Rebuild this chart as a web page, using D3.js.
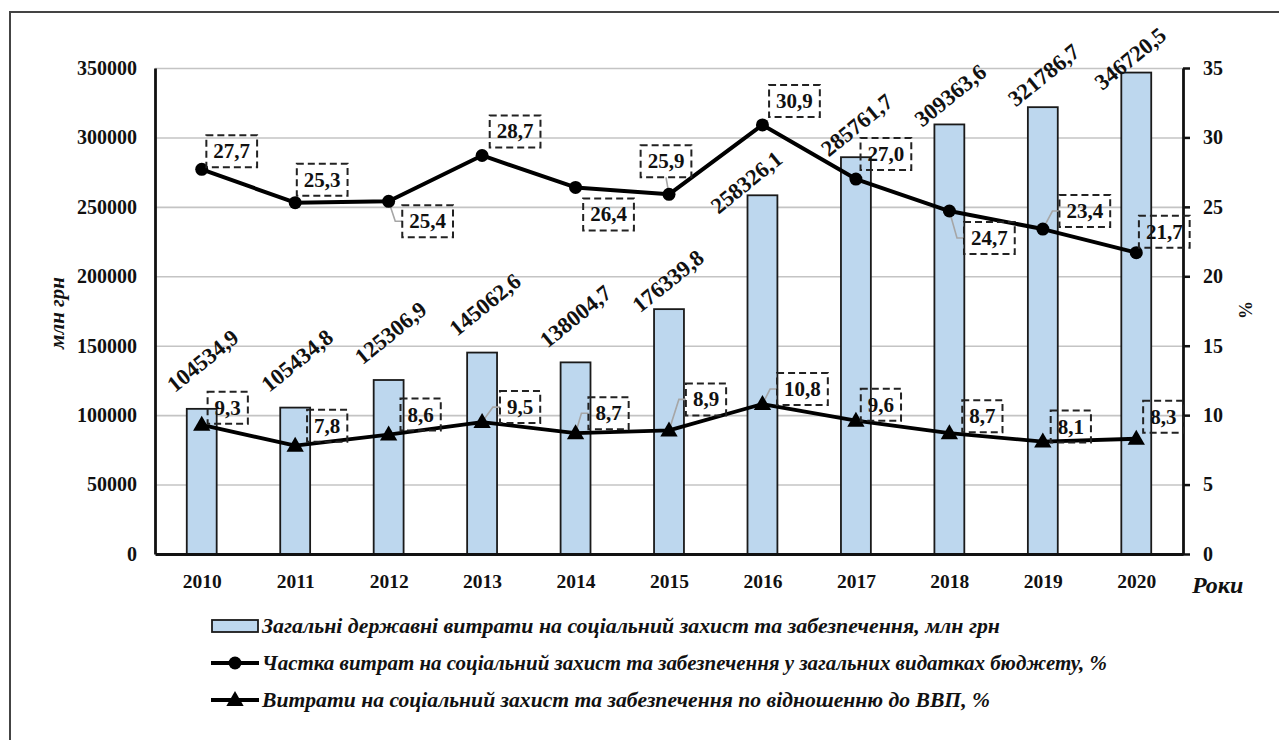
<!DOCTYPE html>
<html>
<head>
<meta charset="utf-8">
<script src="https://cdn.jsdelivr.net/npm/d3@7"></script>
<style>
  html, body { margin: 0; padding: 0; background: #fff; }
  svg { display: block; }
  svg text { font-family: "Liberation Serif", "Times New Roman", serif !important; font-weight: bold; fill: #111; }
</style>
</head>
<body>
<svg id="chart" width="1279" height="740"></svg>
<script>
// ---------- data ----------
const years = ["2010","2011","2012","2013","2014","2015","2016","2017","2018","2019","2020"];
const spending = [104534.9, 105434.8, 125306.9, 145062.6, 138004.7, 176339.8, 258326.1, 285761.7, 309363.6, 321786.7, 346720.5];
const shareOfBudget = [27.7, 25.3, 25.4, 28.7, 26.4, 25.9, 30.9, 27.0, 24.7, 23.4, 21.7];
const shareOfGDP = [9.3, 7.8, 8.6, 9.5, 8.7, 8.9, 10.8, 9.6, 8.7, 8.1, 8.3];
const leftTicks = [0, 50000, 100000, 150000, 200000, 250000, 300000, 350000];
const rightTicks = [0, 5, 10, 15, 20, 25, 30, 35];
const legendLabels = [
  "Загальні державні витрати на соціальний захист та забезпечення, млн грн",
  "Частка витрат на соціальний захист та забезпечення у загальних видатках бюджету, %",
  "Витрати на соціальний захист та забезпечення по відношенню до ВВП, %"
];
const leftTitle = "млн грн";
const rightTitle = "%";
const xTitle = "Роки";

// ---------- layout ----------
const svg = d3.select("#chart").style("font-family", "'Liberation Serif', serif");
const L = 155, R = 1183, T = 68, B = 554;
const fmt = v => String(v).replace(".", ",");
const fmt1 = v => v.toFixed(1).replace(".", ",");

const x = d3.scalePoint().domain(years).range([L, R]).padding(0.5);
const yL = d3.scaleLinear().domain([0, 350000]).range([B, T]);
const yR = d3.scaleLinear().domain([0, 35]).range([B, T]);
const barW = x.step() * 0.32;

// outer frame
svg.append("rect").attr("x", 10).attr("y", 12).attr("width", 1300).attr("height", 760)
  .attr("fill", "none").attr("stroke", "#444").attr("stroke-width", 2);

// gridlines
svg.append("g").attr("transform", `translate(${L},0)`)
  .call(d3.axisRight(yL).tickValues(leftTicks.slice(1)).tickSize(R - L).tickFormat(""))
  .call(g => g.select(".domain").remove())
  .call(g => g.selectAll("line").attr("stroke", "#c4c4c4").attr("stroke-width", 1.6));

// bars
svg.append("g").selectAll("rect").data(spending).join("rect")
  .attr("x", (d, i) => x(years[i]) - barW / 2)
  .attr("y", d => yL(d))
  .attr("width", barW)
  .attr("height", d => B - yL(d))
  .attr("fill", "#bdd7ee").attr("stroke", "#1a1a1a").attr("stroke-width", 1.8);

// bar value labels (rotated), nudges relative to bar top
const barLabelNudge = [[1,-48],[2,-47],[2,-47],[3,-48],[0,-46],[-1,-28],[-16,-13],[1,-32],[1,-29],[1,-32],[-6,-14]];
svg.append("g").selectAll("text").data(spending).join("text")
  .attr("transform", (d, i) => `translate(${x(years[i]) + barLabelNudge[i][0]},${yL(d) + barLabelNudge[i][1]}) rotate(-39)`)
  .attr("text-anchor", "middle").attr("dominant-baseline", "central")
  .attr("font-size", 22.5)
  .text(d => fmt(d));

// axes
svg.append("g").attr("transform", `translate(${L},0)`)
  .call(d3.axisLeft(yL).tickValues(leftTicks).tickSize(0).tickPadding(18).tickFormat(d => d))
  .call(g => g.select(".domain").attr("stroke", "#111").attr("stroke-width", 2.8))
  .call(g => g.selectAll("text").attr("font-size", 20).attr("fill", "#111"));

svg.append("g").attr("transform", `translate(${R},0)`)
  .call(d3.axisRight(yR).tickValues(rightTicks).tickSize(7).tickPadding(13).tickSizeOuter(0).tickFormat(d => d))
  .call(g => g.select(".domain").attr("stroke", "#111").attr("stroke-width", 2.8))
  .call(g => g.selectAll("line").attr("stroke", "#111").attr("stroke-width", 2.5))
  .call(g => g.selectAll("text").attr("font-size", 20).attr("fill", "#111"));

svg.append("g").attr("transform", `translate(0,${B})`)
  .call(d3.axisBottom(x).tickSize(0).tickPadding(20).tickSizeOuter(0))
  .call(g => g.select(".domain").attr("stroke", "#111").attr("stroke-width", 2.8))
  .call(g => g.selectAll("text").attr("font-size", 19.5).attr("fill", "#111"));

// lines
const lineGen = d3.line().x((d, i) => x(years[i])).y(d => yR(d));
svg.append("path").datum(shareOfBudget).attr("d", lineGen)
  .attr("fill", "none").attr("stroke", "#000").attr("stroke-width", 4).attr("stroke-linejoin", "round");
svg.append("path").datum(shareOfGDP).attr("d", lineGen)
  .attr("fill", "none").attr("stroke", "#000").attr("stroke-width", 3.8).attr("stroke-linejoin", "round");

// percentage labels with dashed boxes
const shareNudge = [[30,-18],[27,-23],[39,20],[33,-24],[33,27],[-3,-33],[32,-24],[30,-25],[40,27],[42,-18],[28,-21]];
const shareLeader = [0,0,1,0,0,1,0,0,1,1,0];
const gdpNudge = [[26,-17],[32,-20],[32,-20],[38,-15],[33,-20],[37,-31],[40,-15],[25,-16],[33,-17],[28,-15],[27,-22]];
const gdpLeader = [0,0,0,1,1,1,1,0,0,0,0];

const leaderG = svg.append("g");
const markerG = svg.append("g");
const labelG = svg.append("g");

function boxLabels(values, nudge, leader) {
  values.forEach((v, i) => {
    const px = x(years[i]), py = yR(v);
    const cx = px + nudge[i][0], cy = py + nudge[i][1];
    const t = labelG.append("text").attr("x", cx).attr("y", cy)
      .attr("text-anchor", "middle").attr("dominant-baseline", "central")
      .attr("font-size", 21).text(fmt1(v));
    const w = t.node().getComputedTextLength() + 14, h = 32;
    labelG.insert("rect", "text").attr("x", cx - w / 2).attr("y", cy - h / 2)
      .attr("width", w).attr("height", h)
      .attr("fill", "none").attr("stroke", "#222").attr("stroke-width", 2)
      .attr("stroke-dasharray", "7,4");
    if (leader[i]) {
      const left = cx - w / 2;
      let pts;
      if (left > px + 4) pts = [[px, py], [left - 7, cy], [left, cy]];
      else pts = [[px, py], [cx, cy + (cy < py ? h / 2 : -h / 2)]];
      leaderG.append("path").attr("d", d3.line()(pts))
        .attr("fill", "none").attr("stroke", "#a6a6a6").attr("stroke-width", 1.6);
    }
  });
}
boxLabels(shareOfBudget, shareNudge, shareLeader);
boxLabels(shareOfGDP, gdpNudge, gdpLeader);

// markers
markerG.selectAll("circle").data(shareOfBudget).join("circle")
  .attr("cx", (d, i) => x(years[i])).attr("cy", d => yR(d)).attr("r", 6.5).attr("fill", "#000");
const tri = d3.symbol().type(d3.symbolTriangle).size(130);
markerG.selectAll("path").data(shareOfGDP).join("path")
  .attr("transform", (d, i) => `translate(${x(years[i])},${yR(d) + 1})`)
  .attr("d", tri).attr("fill", "#000");

// axis titles
svg.append("text").attr("transform", "translate(57,313) rotate(-90)")
  .attr("text-anchor", "middle").attr("dominant-baseline", "central")
  .attr("font-size", 21).attr("font-style", "italic").text(leftTitle);
svg.append("text").attr("transform", "translate(1246,310) rotate(-90)")
  .attr("text-anchor", "middle").attr("dominant-baseline", "central")
  .attr("font-size", 18).text(rightTitle);
svg.append("text").attr("x", 1192).attr("y", 593)
  .attr("font-size", 24).attr("font-style", "italic").text(xTitle);

// legend
const lg = svg.append("g");
const legY = [626, 663, 700];
const legEnd = [1000, 1107, 990];
lg.append("rect").attr("x", 212).attr("y", legY[0] - 6).attr("width", 46).attr("height", 12)
  .attr("fill", "#bdd7ee").attr("stroke", "#1a1a1a").attr("stroke-width", 1.8);
[1, 2].forEach(k => {
  lg.append("line").attr("x1", 211).attr("x2", 259).attr("y1", legY[k]).attr("y2", legY[k])
    .attr("stroke", "#000").attr("stroke-width", 4);
});
lg.append("circle").attr("cx", 235).attr("cy", legY[1]).attr("r", 6.5).attr("fill", "#000");
lg.append("path").attr("transform", `translate(235,${legY[2] + 1})`).attr("d", tri).attr("fill", "#000");
legendLabels.forEach((s, k) => {
  lg.append("text").attr("x", 262).attr("y", legY[k]).attr("dominant-baseline", "central")
    .attr("font-size", 21).attr("font-style", "italic")
    .attr("textLength", legEnd[k] - 262).attr("lengthAdjust", "spacingAndGlyphs")
    .text(s);
});
</script>
</body>
</html>
